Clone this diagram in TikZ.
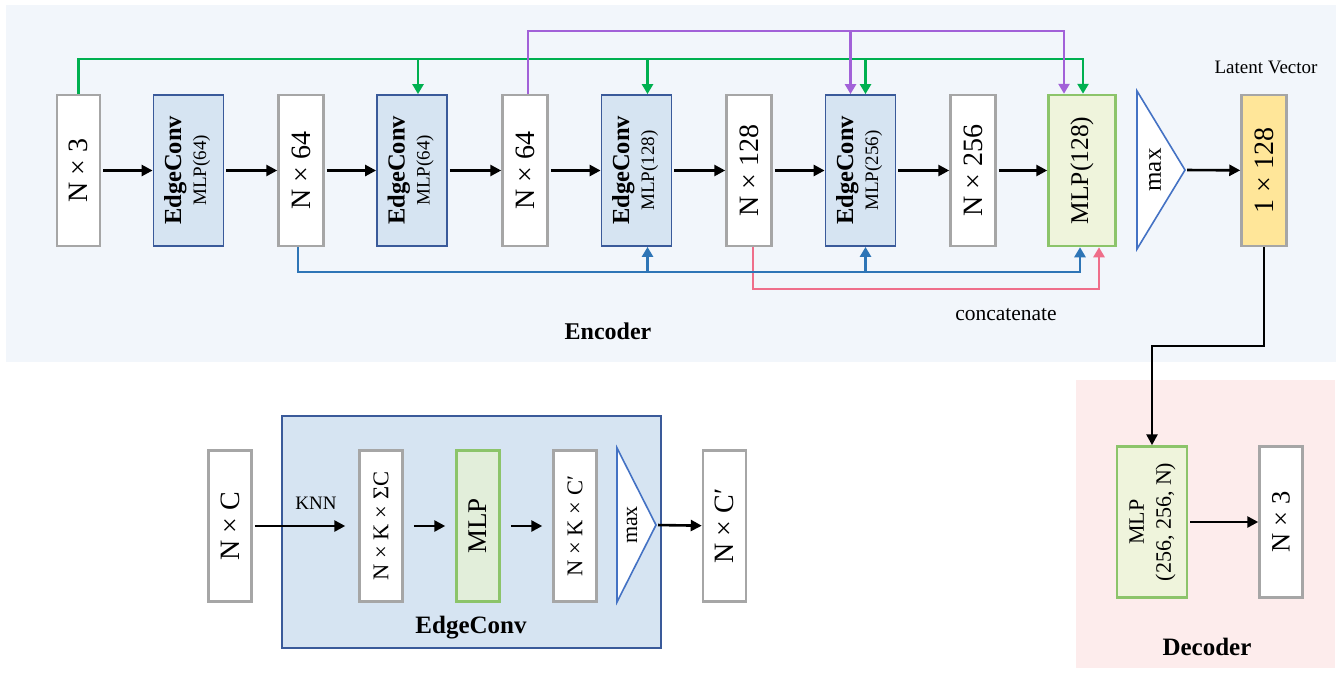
\documentclass[tikz,border=0pt]{standalone}
\usepackage{fontspec}
\setmainfont{Liberation Serif}
\usetikzlibrary{arrows.meta,calc}
\definecolor{encbg}{HTML}{F2F6FB}
\definecolor{decbg}{HTML}{FDECEC}
\definecolor{boxgray}{HTML}{A6A6A6}
\definecolor{ecborder}{HTML}{3A5A9A}
\definecolor{ecfill}{HTML}{D6E4F2}
\definecolor{mlpborder}{HTML}{8CC46A}
\definecolor{mlpfill}{HTML}{EFF4DC}
\definecolor{mlpfillb}{HTML}{E2EEDA}
\definecolor{latfill}{HTML}{FFE699}
\definecolor{maxborder}{HTML}{4472C4}
\definecolor{cgreen}{HTML}{00B050}
\definecolor{cpurple}{HTML}{A261D8}
\definecolor{cblue}{HTML}{2E75B6}
\definecolor{cpink}{HTML}{EF6E8A}
\newcommand{\rt}[1]{\rotatebox{90}{#1}}
\newcommand{\ectext}[1]{\rotatebox{90}{\fontsize{19}{25}\selectfont\begin{tabular}{@{}c@{}}{\fontsize{24.5}{25}\selectfont\bfseries EdgeConv}\\ #1\end{tabular}}}
\begin{document}
\begin{tikzpicture}[x=1pt,y=-1pt,
  dimbox/.style={draw=boxgray,line width=2.5pt,fill=white,minimum width=43pt,minimum height=151pt,inner sep=0pt,font=\fontsize{28}{30}\selectfont},
  ecbox/.style={draw=ecborder,line width=1.8pt,fill=ecfill,minimum width=70pt,minimum height=151pt,inner sep=0pt},
  mlpbox/.style={draw=mlpborder,line width=2.5pt,fill=mlpfill,minimum width=67pt,minimum height=151pt,inner sep=0pt},
  latbox/.style={dimbox,fill=latfill},
  maxtri/.style={draw=maxborder,line width=1.6pt,fill=white},
  flow/.style={line width=2.6pt,-{Triangle[length=11pt,width=11pt]},shorten <=2pt},
  plain/.style={line width=2.6pt,-{Triangle[length=11pt,width=11pt]}},
  conn/.style={line width=2.5pt,-{Triangle[length=10pt,width=11pt]}},
  lbl/.style={inner sep=0pt}
]
\useasboundingbox (0,0) rectangle (1343,675);
\fill[encbg] (6,5) rectangle (1336,362);
\fill[decbg] (1076,380) rectangle (1335,668);

% ---------- encoder row ----------
\node[dimbox] (a0) at (78.5,170.5) {\rt{N × 3}};
\node[ecbox]  (e1) at (188.5,170.5) {\ectext{MLP(64)}};
\node[dimbox,minimum width=45pt] (a1) at (301,170.5) {\rt{N × 64}};
\node[ecbox]  (e2) at (412,170.5) {\ectext{MLP(64)}};
\node[dimbox,minimum width=45pt] (a2) at (525,170.5) {\rt{N × 64}};
\node[ecbox]  (e3) at (636.5,170.5) {\ectext{MLP(128)}};
\node[dimbox,minimum width=45pt] (a3) at (749,170.5) {\rt{N × 128}};
\node[ecbox]  (e4) at (860.5,170.5) {\ectext{MLP(256)}};
\node[dimbox,minimum width=45pt] (a4) at (973,170.5) {\rt{N × 256}};
\node[mlpbox,font=\fontsize{25.5}{28}\selectfont] (m1) at (1082,170.5) {\rt{MLP(128)}};
\draw[maxtri] (1137,91) coordinate (t1a) -- (1185,170) coordinate (tip1) -- (1137,249) coordinate (t1c) -- cycle;
\node[lbl,font=\fontsize{25}{28}\selectfont] (mx1) at (1155,170) {\rt{max}};
\node[latbox,minimum width=45pt] (lv) at (1264,170.5) {\rt{1 × 128}};
\node[lbl,font=\fontsize{19}{22}\selectfont] (lvt) at (1266,67) {Latent Vector};

\foreach \u/\v in {a0/e1,e1/a1,a1/e2,e2/a2,a2/e3,e3/a3,a3/e4,e4/a4,a4/m1,tip1/lv}
  \draw[flow] (\u) -- (\v);

% skip-connection rails
\coordinate (P) at (0,31);
\coordinate (G) at (0,59);
\coordinate (B) at (0,272);
\coordinate (K) at (0,289);
\coordinate (mgn) at ($(m1.north)+(1,0)$);
\coordinate (mpn) at ($(m1.north)+(-18,0)$);
\coordinate (mbs) at ($(m1.south)+(-2,0)$);
\coordinate (mks) at ($(m1.south)+(17,0)$);
\coordinate (e2g) at ($(e2.north)+(6,0)$);
\coordinate (e3g) at ($(e3.north)+(11,0)$);
\coordinate (e3b) at ($(e3.south)+(11,0)$);
\coordinate (e4p) at ($(e4.north)+(-10,0)$);
\coordinate (e4g) at ($(e4.north)+(5,0)$);
\coordinate (e4b) at ($(e4.south)+(5,0)$);
\coordinate (a2p) at ($(a2.north)+(3,0)$);
\coordinate (a1b) at ($(a1.south)+(-3,0)$);
\coordinate (a3k) at ($(a3.south)+(4,0)$);

\draw[conn,cgreen] (a0.north) |- (G -| mgn) -- (mgn);
\draw[conn,cgreen] (G -| e2g) -- (e2g);
\draw[conn,cgreen] (G -| e3g) -- (e3g);
\draw[conn,cgreen] (G -| e4g) -- (e4g);
\draw[conn,cpurple] (a2p) |- (P -| mpn) -- (mpn);
\draw[conn,cpurple] (P -| e4p) -- (e4p);
\draw[conn,cpink] (a3k) |- (K -| mks) -- (mks);
\draw[conn,cblue] (a1b) |- (B -| mbs) -- (mbs);
\draw[conn,cblue] (B -| e3b) -- (e3b);
\draw[conn,cblue] (B -| e4b) -- (e4b);

\node[lbl,font=\fontsize{21.5}{24}\selectfont] (cc) at (1006,315) {concatenate};
\node[lbl,font=\fontsize{24}{28}\selectfont\bfseries] (enc) at (608,331) {Encoder};

% ---------- decoder ----------
\node[mlpbox,minimum width=70pt] (dm) at (1152,522) {\rt{\fontsize{22}{27}\selectfont\begin{tabular}{@{}c@{}}MLP\\ (256, 256, N)\end{tabular}}};
\node[dimbox,font=\fontsize{26.5}{30}\selectfont] (d3) at (1281,522) {\rt{N × 3}};
\coordinate (J) at (0,346);
\draw[plain] (lv.south) -- (lv.south |- J) -| (dm.north);
\draw[flow] (dm) -- (d3);
\node[lbl,font=\fontsize{25}{28}\selectfont\bfseries] (dec) at (1207,647) {Decoder};

% ---------- EdgeConv detail ----------
\node[draw=ecborder,line width=1.8pt,fill=ecfill,minimum width=379pt,minimum height=232.6pt,inner sep=0pt] (ecd) at (471.5,532) {};
\node[dimbox] (nc) at (230,526) {\rt{N × C}};
\node[dimbox,font=\fontsize{22.5}{26}\selectfont] (nk) at (381,526) {\rt{N × K × ΣC}};
\node[mlpbox,fill=mlpfillb,minimum width=43pt,font=\fontsize{27}{30}\selectfont] (mlp2) at (478,526) {\rt{MLP}};
\node[dimbox,font=\fontsize{22.5}{26}\selectfont] (nkc) at (575,526) {\rt{N × K × C′}};
\draw[maxtri] (617,448) coordinate (t2a) -- (656,525) coordinate (tip2) -- (617,602) coordinate (t2c) -- cycle;
\node[lbl,font=\fontsize{22}{26}\selectfont] (mx2) at (632,525) {\rt{max}};
\node[dimbox] (nc2) at (724.5,526) {\rt{N × C′}};
\node[lbl,font=\fontsize{19}{22}\selectfont] (knn) at (316,503) {KNN};
\node[lbl,font=\fontsize{25}{28}\selectfont\bfseries] (ect) at (471,628) {EdgeConv};
\draw[flow,shorten >=13pt] (nc) -- (nk);
\draw[flow,shorten <=10pt,shorten >=10pt] (nk) -- (mlp2);
\draw[flow,shorten <=10pt,shorten >=10pt] (mlp2) -- (nkc);
\draw[flow] (tip2) -- (nc2);
\end{tikzpicture}
\end{document}
